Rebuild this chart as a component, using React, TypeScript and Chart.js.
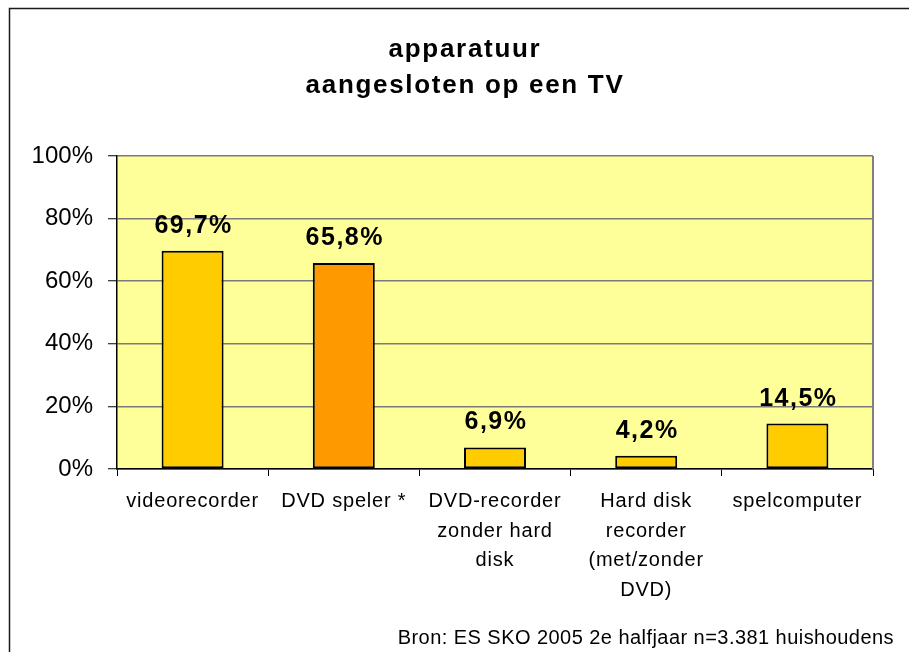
import React, { useEffect, useRef } from "react";
import { Chart, registerables } from "chart.js";

Chart.register(...registerables);

const titleLines = ["apparatuur", "aangesloten op een TV"];
const categories: string[][] = [
  ["videorecorder"],
  ["DVD speler *"],
  ["DVD-recorder", "zonder hard", "disk"],
  ["Hard disk", "recorder", "(met/zonder", "DVD)"],
  ["spelcomputer"],
];
const values = [69.7, 65.8, 6.9, 4.2, 14.5];
const barColors = ["#FFCC00", "#FF9900", "#FFCC00", "#FFCC00", "#FFCC00"];
const yMin = 0;
const yMax = 100;
const yStep = 20;
const footer = "Bron: ES SKO 2005 2e halfjaar n=3.381 huishoudens";

const FONT = "Arial, 'Liberation Sans', sans-serif";

const fmt = (v: number) => v.toFixed(1).replace(".", ",") + "%";

const withSpacing = (scale: any, spacing: string) => {
  if (!scale || scale.__patched) return;
  const orig = scale.drawLabels.bind(scale);
  scale.drawLabels = (area: any) => {
    const ctx = scale.ctx;
    const prev = ctx.letterSpacing;
    ctx.letterSpacing = spacing;
    orig(area);
    ctx.letterSpacing = prev;
  };
  scale.__patched = true;
};

const decorPlugin = {
  id: "decor",
  afterLayout(chart: any) {
    withSpacing(chart.scales.x, "0.8px");
    withSpacing(chart.scales.y, "0px");
  },
  beforeDraw(chart: any) {
    const ctx = chart.ctx as CanvasRenderingContext2D;
    const { left, top, right, bottom } = chart.chartArea;
    ctx.save();
    ctx.fillStyle = "#FFFFFF";
    ctx.fillRect(0, 0, chart.width, chart.height);
    ctx.fillStyle = "#FFFF99";
    ctx.fillRect(left, top, right - left, bottom - top);
    ctx.strokeStyle = "#1a1a1a";
    ctx.lineWidth = 1.5;
    ctx.strokeRect(9.5, 8.5, 1200, 1200);
    ctx.restore();
  },
  beforeDatasetsDraw(chart: any) {
    const ctx = chart.ctx as CanvasRenderingContext2D;
    const { top, right, bottom } = chart.chartArea;
    ctx.save();
    ctx.strokeStyle = "#808080";
    ctx.lineWidth = 2;
    ctx.beginPath();
    ctx.moveTo(right, top);
    ctx.lineTo(right, bottom);
    ctx.stroke();
    ctx.restore();
  },
  afterDatasetsDraw(chart: any) {
    const ctx = chart.ctx as CanvasRenderingContext2D;
    const meta = chart.getDatasetMeta(0);
    ctx.save();
    (ctx as any).letterSpacing = "1.5px";
    ctx.fillStyle = "#000";
    ctx.font = `bold 25px ${FONT}`;
    ctx.textAlign = "center";
    ctx.textBaseline = "alphabetic";
    meta.data.forEach((bar: any, i: number) => {
      ctx.fillText(fmt(values[i]), bar.x + 1, bar.y - 18);
    });
    ctx.restore();
  },
  afterDraw(chart: any) {
    const ctx = chart.ctx as CanvasRenderingContext2D;
    ctx.save();
    ctx.fillStyle = "#000";
    (ctx as any).letterSpacing = "1.7px";
    ctx.font = `bold 26px ${FONT}`;
    ctx.textAlign = "center";
    ctx.textBaseline = "alphabetic";
    ctx.fillText(titleLines[0], 465, 57);
    ctx.fillText(titleLines[1], 465, 93);
    (ctx as any).letterSpacing = "0.45px";
    ctx.font = `20px ${FONT}`;
    ctx.textAlign = "right";
    ctx.fillText(footer, 894, 644);
    ctx.restore();
  },
};

export default function App() {
  const ref = useRef<HTMLCanvasElement | null>(null);
  useEffect(() => {
    if (!ref.current) return;
    const chart = new Chart(ref.current, {
      type: "bar",
      data: {
        labels: categories,
        datasets: [
          {
            data: values,
            backgroundColor: barColors,
            borderColor: "#000",
            borderWidth: 2,
            borderSkipped: false,
            categoryPercentage: 1,
            barPercentage: 0.41,
          },
        ],
      },
      options: {
        responsive: false,
        animation: false,
        devicePixelRatio: 1,
        layout: { padding: { left: 0, right: 36, top: 156, bottom: 0 } },
        plugins: {
          legend: { display: false },
          title: { display: false },
          tooltip: { enabled: false },
        },
        scales: {
          x: {
            grid: {
              display: true,
              drawOnChartArea: false,
              offset: true,
              tickLength: 7,
              tickColor: "#000",
              tickWidth: 1,
            },
            border: { color: "#000", width: 1.5 },
            ticks: {
              color: "#000",
              font: { family: FONT, size: 20, lineHeight: 1.475 },
              maxRotation: 0,
              autoSkip: false,
              padding: 11,
            },
            afterFit(scale: any) {
              scale.height = 652 - 469;
            },
          },
          y: {
            min: yMin,
            max: yMax,
            grid: {
              color: "#7a7a7a",
              lineWidth: 1.5,
              tickLength: 9,
              tickColor: "#000",
              tickWidth: 1,
            },
            border: { color: "#000", width: 1.5 },
            ticks: {
              stepSize: yStep,
              color: "#000",
              font: { family: FONT, size: 24 },
              padding: 15,
              callback: (v: any) => `${v}%`,
            },
            afterFit(scale: any) {
              scale.width = 117;
            },
          },
        },
      },
      plugins: [decorPlugin],
    });
    return () => chart.destroy();
  }, []);
  return (
    <div style={{ position: "absolute", left: 0, top: 0, width: 909, height: 652 }}>
      <canvas ref={ref} width={909} height={652} />
    </div>
  );
}
